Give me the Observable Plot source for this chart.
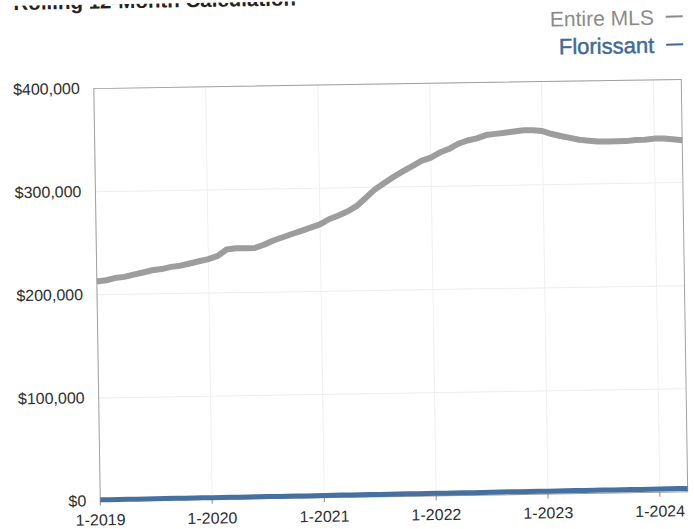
<!DOCTYPE html>
<html>
<head>
<meta charset="utf-8">
<script src="https://cdn.jsdelivr.net/npm/d3@7"></script>
<script src="https://cdn.jsdelivr.net/npm/@observablehq/plot@0.6"></script>
<style>
  html, body { margin: 0; padding: 0; background: #fff; }
  #wrap {
    position: relative; width: 694px; height: 529px; overflow: hidden;
    font-family: "Liberation Sans", Arial, sans-serif;
    transform: rotate(-0.9deg); transform-origin: 390px 289px;
  }
  #title {
    position: absolute; left: 18px; top: -13.5px; line-height: 1;
    font-size: 20.5px; font-weight: bold; color: #222; white-space: nowrap;
  }
  .legend {
    position: absolute; right: 7px; line-height: 1; white-space: nowrap;
  }
  .legend .dash {
    display: inline-block; width: 17px; height: 2px; margin-left: 12px;
    vertical-align: 7px;
  }
  #chart { position: absolute; left: 0; top: 0; }
</style>
</head>
<body>
<div id="wrap">
  <div id="title">Rolling 12-Month Calculation</div>
  <div class="legend" id="leg-mls" style="top:11.2px;font-size:21px;color:#8a8a8a">Entire MLS<span class="dash" style="background:#8a8a8a"></span></div>
  <div class="legend" id="leg-flo" style="top:38.5px;font-size:22px;color:#3f6996;-webkit-text-stroke:0.45px #3f6996">Florissant<span class="dash" style="background:#3f6996"></span></div>
  <div id="chart"></div>
</div>
<script>
// Monthly rolling 12-month median sales price, Jan 2019 through Apr 2024
const firstMonth = [2019, 1];
const mlsPrice = [
  213000, 214000, 216000, 217000, 219000, 221000, 223000, 224000, 226000, 227000, 229000, 231000,
  233000, 236000, 242000, 243000, 243000, 243000, 246000, 250000, 253000, 256000, 259000, 262000,
  265000, 270000, 273000, 277000, 282000, 290000, 298000, 304000, 310000, 315000, 320000, 325000,
  328000, 333000, 336000, 341000, 344000, 346000, 349000, 350000, 351000, 352000, 353000, 353000,
  352000, 349000, 347000, 345000, 343000, 342000, 341000, 341000, 341000, 341000, 342000, 342000,
  343000, 343000, 342000, 341000
];
const florissantPrice = [
  1200, 1200, 1300, 1300, 1300, 1400, 1400, 1400, 1500, 1500, 1500, 1600,
  1600, 1600, 1700, 1700, 1700, 1800, 1800, 1800, 1900, 1900, 1900, 2000,
  2000, 2000, 2100, 2100, 2100, 2200, 2200, 2200, 2300, 2300, 2300, 2400,
  2400, 2400, 2500, 2500, 2500, 2600, 2600, 2600, 2700, 2700, 2700, 2800,
  2800, 2800, 2900, 2900, 2900, 3000, 3000, 3000, 3100, 3100, 3100, 3200,
  3200, 3200, 3300, 3300
];
const yTicks = [0, 100000, 200000, 300000, 400000];
const xTickLabels = ["1-2019", "1-2020", "1-2021", "1-2022", "1-2023", "1-2024"];

const start = new Date(Date.UTC(firstMonth[0], firstMonth[1] - 1, 1));
const rows = mlsPrice.map((v, i) => ({
  date: d3.utcMonth.offset(start, i),
  mls: v,
  florissant: florissantPrice[i]
}));

// Tick dates parsed from the "M-YYYY" labels
const xTicks = xTickLabels.map(s => {
  const [m, y] = s.split("-").map(Number);
  return new Date(Date.UTC(y, m - 1, 1));
});
const labelByTime = new Map(xTicks.map((d, i) => [+d, xTickLabels[i]]));
const money = d3.format(",");

const chart = Plot.plot({
  width: 694,
  height: 529,
  marginTop: 83.5,
  marginBottom: 33,
  marginLeft: 96.5,
  marginRight: 10,
  style: {
    fontFamily: "'Liberation Sans', Arial, sans-serif",
    fontSize: "16px",
    color: "#2e2e2e",
    background: "transparent",
    overflow: "visible"
  },
  x: { type: "utc", domain: [start, rows[rows.length - 1].date] },
  y: { domain: [0, 400000] },
  marks: [
    Plot.gridY(yTicks, { stroke: "#ededed", strokeOpacity: 1 }),
    Plot.gridX(xTicks, { stroke: "#f0f0f0", strokeOpacity: 1 }),
    Plot.frame({ stroke: "#a0a0a0" }),
    Plot.axisY(yTicks, {
      tickSize: 0, tickPadding: 14,
      tickFormat: d => "$" + money(d)
    }),
    Plot.axisX(xTicks, {
      tickSize: 5, tickPadding: 8, stroke: "#8a8a8a",
      tickFormat: d => labelByTime.get(+d)
    }),
    Plot.line(rows, { x: "date", y: "mls", stroke: "#9d9d9d", strokeWidth: 6, strokeLinecap: "butt" }),
    Plot.line(rows, { x: "date", y: "florissant", stroke: "#46709f", strokeWidth: 5, strokeLinecap: "butt" })
  ]
});
document.getElementById("chart").appendChild(chart);
</script>
</body>
</html>
